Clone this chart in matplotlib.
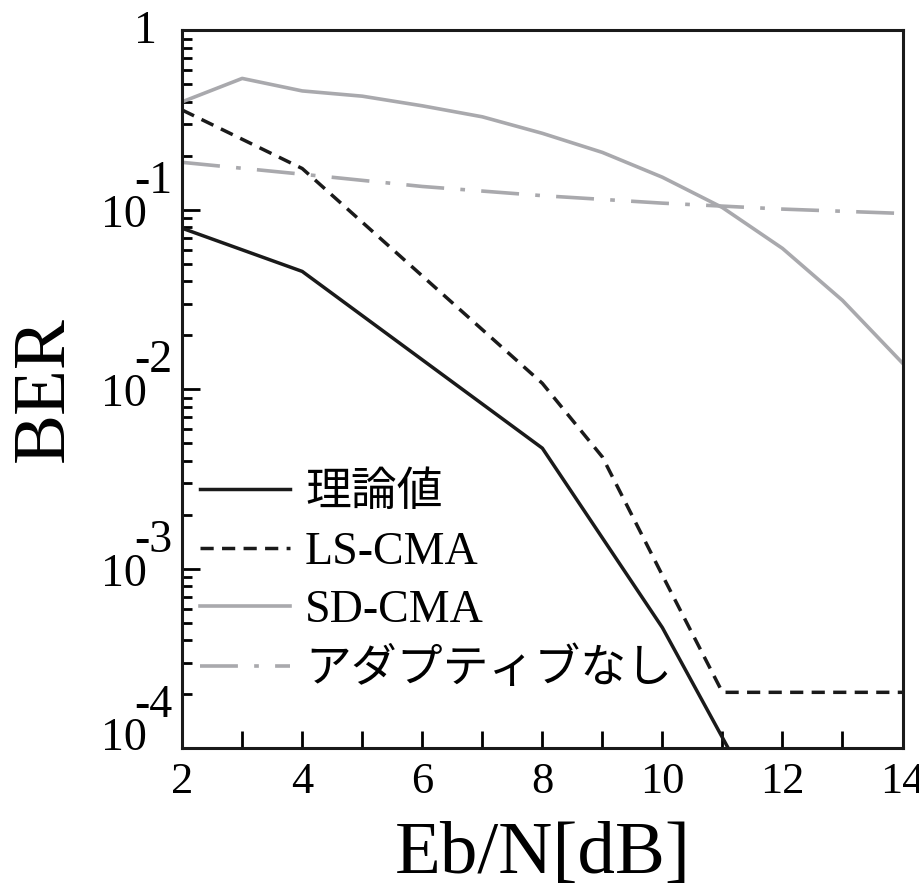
import matplotlib
matplotlib.use("Agg")
import matplotlib.pyplot as plt
from matplotlib.ticker import LogLocator, MultipleLocator, FixedLocator, NullFormatter

plt.rcParams['font.family'] = ['Liberation Serif', 'Noto Sans CJK JP']

# data
theory_x = [2, 4, 8, 10, 12]
theory_y = [0.079, 0.0454, 0.0047, 4.7e-4, 2.8e-5]

ls_x = [2, 4, 8, 9, 10, 11, 12, 13, 14]
ls_y = [0.36, 0.17, 0.0108, 0.0042, 9.2e-4, 2.05e-4, 2.05e-4, 2.05e-4, 2.05e-4]

sd_x = [2, 3, 4, 5, 6, 7, 8, 9, 10, 11, 12, 13, 14]
sd_y = [0.40, 0.54, 0.46, 0.43, 0.38, 0.33, 0.267, 0.209, 0.152, 0.103, 0.061, 0.0313, 0.0140]

noad_x = [2, 4, 6, 8, 10, 12, 14]
noad_y = [0.184, 0.158, 0.135, 0.120, 0.109, 0.101, 0.0955]

labels = ['理論値', 'LS-CMA', 'SD-CMA', 'アダプティブなし']
ytick_vals = [1e-4, 1e-3, 1e-2, 1e-1]
ytick_exps = ['-4', '-3', '-2', '-1']

gray = '#a9a9ad'
black = '#1a1a1a'

fig = plt.figure(figsize=(9.2, 8.94), dpi=100)
ax = fig.add_axes([0.198, 0.163, 0.783, 0.803])

ax.plot(theory_x, theory_y, color=black, lw=2.5, label=labels[0])
ax.plot(ls_x, ls_y, color=black, lw=2.5, dashes=(3.8, 2.4), label=labels[1])
ax.plot(sd_x, sd_y, color=gray, lw=2.6, label=labels[2])
ax.plot(noad_x, noad_y, color=gray, lw=2.6, dashes=(10.5, 4.5, 1.3, 4.5), label=labels[3])

ax.set_yscale('log')
ax.set_xlim(2, 14)
ax.set_ylim(1e-4, 1)

ax.yaxis.set_major_locator(FixedLocator(ytick_vals + [1]))
ax.yaxis.set_major_formatter(NullFormatter())
ax.yaxis.set_minor_locator(LogLocator(base=10, subs=range(2, 10)))
ax.yaxis.set_minor_formatter(NullFormatter())
ax.xaxis.set_major_locator(MultipleLocator(2))
ax.xaxis.set_minor_locator(MultipleLocator(1))

ax.tick_params(which='both', direction='in', top=False, right=False, width=2.0)
ax.tick_params(axis='x', which='major', length=12, pad=10, labelsize=32)
ax.tick_params(axis='x', which='minor', length=12)
ax.tick_params(axis='y', which='major', length=13)
ax.tick_params(axis='y', which='minor', length=7)
for sp in ax.spines.values():
    sp.set_linewidth(2.2)
    sp.set_color(black)

# y tick labels written as "10" with a full-size raised exponent, like the reference
ytrans = ax.get_yaxis_transform()
for v, e in zip(ytick_vals, ytick_exps):
    base_dy, sup_dy = (-17, 17) if v > 1e-4 else (-2, 31)
    ax.annotate('10', xy=(0, v), xycoords=ytrans, xytext=(-35, base_dy),
                textcoords='offset pixels', ha='right', va='baseline', fontsize=33,
                annotation_clip=False)
    ax.annotate(e, xy=(0, v), xycoords=ytrans, xytext=(-48, sup_dy),
                textcoords='offset pixels', ha='left', va='baseline', fontsize=33,
                annotation_clip=False)
ax.annotate('1', xy=(0, 1), xycoords=ytrans, xytext=(-25, -13),
            textcoords='offset pixels', ha='right', va='baseline', fontsize=33,
            annotation_clip=False)

ax.set_xlabel('Eb/N[dB]', fontsize=54, labelpad=14)
ax.set_ylabel('BER', fontsize=54, labelpad=71)

ax.legend(loc='lower left', bbox_to_anchor=(0.0, 0.053), frameon=False,
          fontsize=33, handlelength=1.95, handletextpad=0.33, labelspacing=0.35,
          borderaxespad=0.0)

fig.savefig('out.png', dpi=100)
